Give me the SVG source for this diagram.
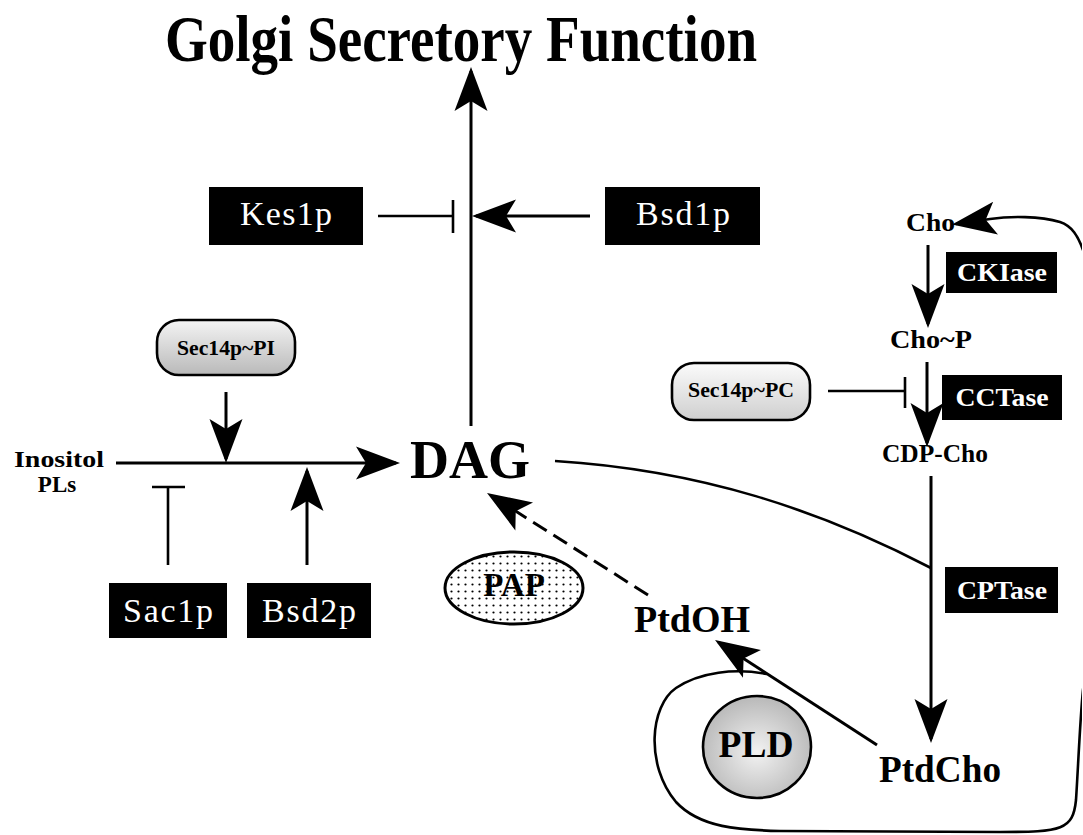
<svg xmlns="http://www.w3.org/2000/svg" width="1083" height="835" viewBox="0 0 1083 835" overflow="hidden">
<defs>
<style>
.ln{fill:none;stroke:#000;stroke-width:3}
.inh{fill:none;stroke:#000;stroke-width:2.6}
.blk{fill:#000}
.wt{fill:#fff;font-family:"Liberation Serif",serif;font-size:34px;text-anchor:middle}
.wb{fill:#fff;font-family:"Liberation Serif",serif;font-weight:bold;font-size:26px;text-anchor:middle}
.bt{fill:#000;font-family:"Liberation Serif",serif;font-weight:bold}
.pill{stroke:#000;stroke-width:2.6}
</style>
<clipPath id="frame"><rect x="0" y="0" width="1082" height="835"/></clipPath>
<marker id="ah" markerUnits="userSpaceOnUse" orient="auto" overflow="visible" markerWidth="1" markerHeight="1" refX="0" refY="0">
<path d="M4,0 L-40,-16.5 L-30,0 L-40,16.5 Z" fill="#000"/>
</marker>
<linearGradient id="gPI" x1="0" y1="0" x2="0" y2="1">
<stop offset="0" stop-color="#f4f4f4"/>
<stop offset="1" stop-color="#b9b9b9"/>
</linearGradient>
<linearGradient id="gPC" x1="0" y1="0" x2="0" y2="1">
<stop offset="0" stop-color="#fbfbfb"/>
<stop offset="1" stop-color="#cfcfcf"/>
</linearGradient>
<radialGradient id="gPLD" cx="0.5" cy="0.55" r="0.55">
<stop offset="0" stop-color="#f2f2f2"/>
<stop offset="1" stop-color="#b8b8b8"/>
</radialGradient>
<pattern id="dots" width="7" height="7" patternUnits="userSpaceOnUse">
<rect width="7" height="7" fill="#fff"/>
<circle cx="3.5" cy="3.5" r="1.1" fill="#000"/>
</pattern>
</defs>

<g id="title">
<text class="bt" x="165" y="61" font-size="66" textLength="592" lengthAdjust="spacingAndGlyphs">Golgi Secretory Function</text>
</g>

<g id="connectors">
<line class="ln" x1="471" y1="426" x2="471" y2="71" marker-end="url(#ah)"/>
<line class="inh" x1="378" y1="216" x2="453" y2="216"/>
<line class="inh" x1="453" y1="200" x2="453" y2="233"/>
<line class="ln" x1="590" y1="216" x2="476" y2="216" marker-end="url(#ah)"/>
<line class="ln" x1="116" y1="463" x2="396" y2="463" marker-end="url(#ah)"/>
<line class="ln" x1="226" y1="392" x2="226" y2="459" marker-end="url(#ah)"/>
<line class="inh" x1="168" y1="565" x2="168" y2="487"/>
<line class="inh" x1="152" y1="487" x2="185" y2="487"/>
<line class="ln" x1="307" y1="565" x2="307" y2="471" marker-end="url(#ah)"/>
<line class="ln" x1="928" y1="245" x2="928" y2="324" marker-end="url(#ah)"/>
<line class="ln" x1="927" y1="362" x2="927" y2="443" marker-end="url(#ah)"/>
<line class="ln" x1="931" y1="476" x2="931" y2="739" marker-end="url(#ah)"/>
<line class="inh" x1="828" y1="391" x2="905" y2="391"/>
<line class="inh" x1="905" y1="377" x2="905" y2="408"/>
<path class="inh" d="M555,461 C700,470 820,510 931,568"/>
<line class="ln" x1="877" y1="745" x2="718.4" y2="642.2" marker-end="url(#ah)"/>
<line class="ln" x1="648" y1="595" x2="490.4" y2="495.1" stroke-dasharray="16 8" marker-end="url(#ah)"/>
<g clip-path="url(#frame)">
<path class="inh" d="M767,674 C735,668 700,672 676,688 C650,706 645,765 676,802 C700,828 740,830 780,831 L1000,832 C1062,832 1073,830 1076,800 C1078,770 1080,720 1083,690 C1090,640 1110,600 1110,500 L1110,360 C1110,300 1092,270 1083,250 C1078,236 1072,226 1060,222 C1040,216 1010,216 990,219 L956,224" marker-end="url(#ah)"/>
</g>
</g>

<g id="kes1p">
<rect class="blk" x="209" y="187" width="154" height="58"/>
<text class="wt" x="286" y="225" textLength="92">Kes1p</text>
</g>
<g id="bsd1p">
<rect class="blk" x="605" y="187" width="155" height="58"/>
<text class="wt" x="683" y="225" textLength="94">Bsd1p</text>
</g>
<g id="sec14p-pi">
<rect class="pill" fill="url(#gPI)" x="157" y="320" width="138" height="55" rx="22"/>
<text class="bt" x="226" y="355" font-size="21" text-anchor="middle" textLength="98" lengthAdjust="spacingAndGlyphs">Sec14p~PI</text>
</g>
<g id="inositol">
<text class="bt" x="14" y="467" font-size="23" textLength="90" lengthAdjust="spacingAndGlyphs">Inositol</text>
<text class="bt" x="57" y="492" font-size="23" text-anchor="middle">PLs</text>
</g>
<g id="dag">
<text class="bt" x="410" y="478" font-size="54" textLength="120" lengthAdjust="spacingAndGlyphs">DAG</text>
</g>
<g id="sac1p">
<rect class="blk" x="109" y="583" width="118" height="55"/>
<text class="wt" x="168" y="622" textLength="90">Sac1p</text>
</g>
<g id="bsd2p">
<rect class="blk" x="247" y="583" width="124" height="55"/>
<text class="wt" x="309" y="622" textLength="94">Bsd2p</text>
</g>
<g id="pap">
<ellipse cx="514" cy="588" rx="69" ry="36" fill="url(#dots)" stroke="#000" stroke-width="3"/>
<text class="bt" x="514" y="596" font-size="33" text-anchor="middle">PAP</text>
</g>
<g id="ptdoh">
<text class="bt" x="634" y="632" font-size="37" textLength="116" lengthAdjust="spacingAndGlyphs">PtdOH</text>
</g>
<g id="pld">
<ellipse cx="757" cy="747" rx="54" ry="51" fill="url(#gPLD)" stroke="#000" stroke-width="2.6"/>
<text class="bt" x="756" y="757" font-size="37" text-anchor="middle" textLength="75" lengthAdjust="spacingAndGlyphs">PLD</text>
</g>
<g id="ptdcho">
<text class="bt" x="879" y="782" font-size="37" textLength="122" lengthAdjust="spacingAndGlyphs">PtdCho</text>
</g>
<g id="cho">
<text class="bt" x="906" y="231" font-size="26" textLength="49" lengthAdjust="spacingAndGlyphs">Cho</text>
</g>
<g id="ckiase">
<rect class="blk" x="946" y="252" width="111" height="41"/>
<text class="wb" x="1002" y="281" textLength="90" lengthAdjust="spacingAndGlyphs">CKIase</text>
</g>
<g id="cho-p">
<text class="bt" x="890" y="348" font-size="26" textLength="82" lengthAdjust="spacingAndGlyphs">Cho~P</text>
</g>
<g id="sec14p-pc">
<rect class="pill" fill="url(#gPC)" x="672" y="363" width="138" height="57" rx="22"/>
<text class="bt" x="741" y="397" font-size="21" text-anchor="middle" textLength="106" lengthAdjust="spacingAndGlyphs">Sec14p~PC</text>
</g>
<g id="cctase">
<rect class="blk" x="942" y="375" width="120" height="45"/>
<text class="wb" x="1002" y="406" font-size="27" textLength="93" lengthAdjust="spacingAndGlyphs">CCTase</text>
</g>
<g id="cdp-cho">
<text class="bt" x="882" y="462" font-size="26" textLength="106" lengthAdjust="spacingAndGlyphs">CDP-Cho</text>
</g>
<g id="cptase">
<rect class="blk" x="945" y="567" width="113" height="46"/>
<text class="wb" x="1002" y="599" textLength="90" lengthAdjust="spacingAndGlyphs">CPTase</text>
</g>
</svg>
